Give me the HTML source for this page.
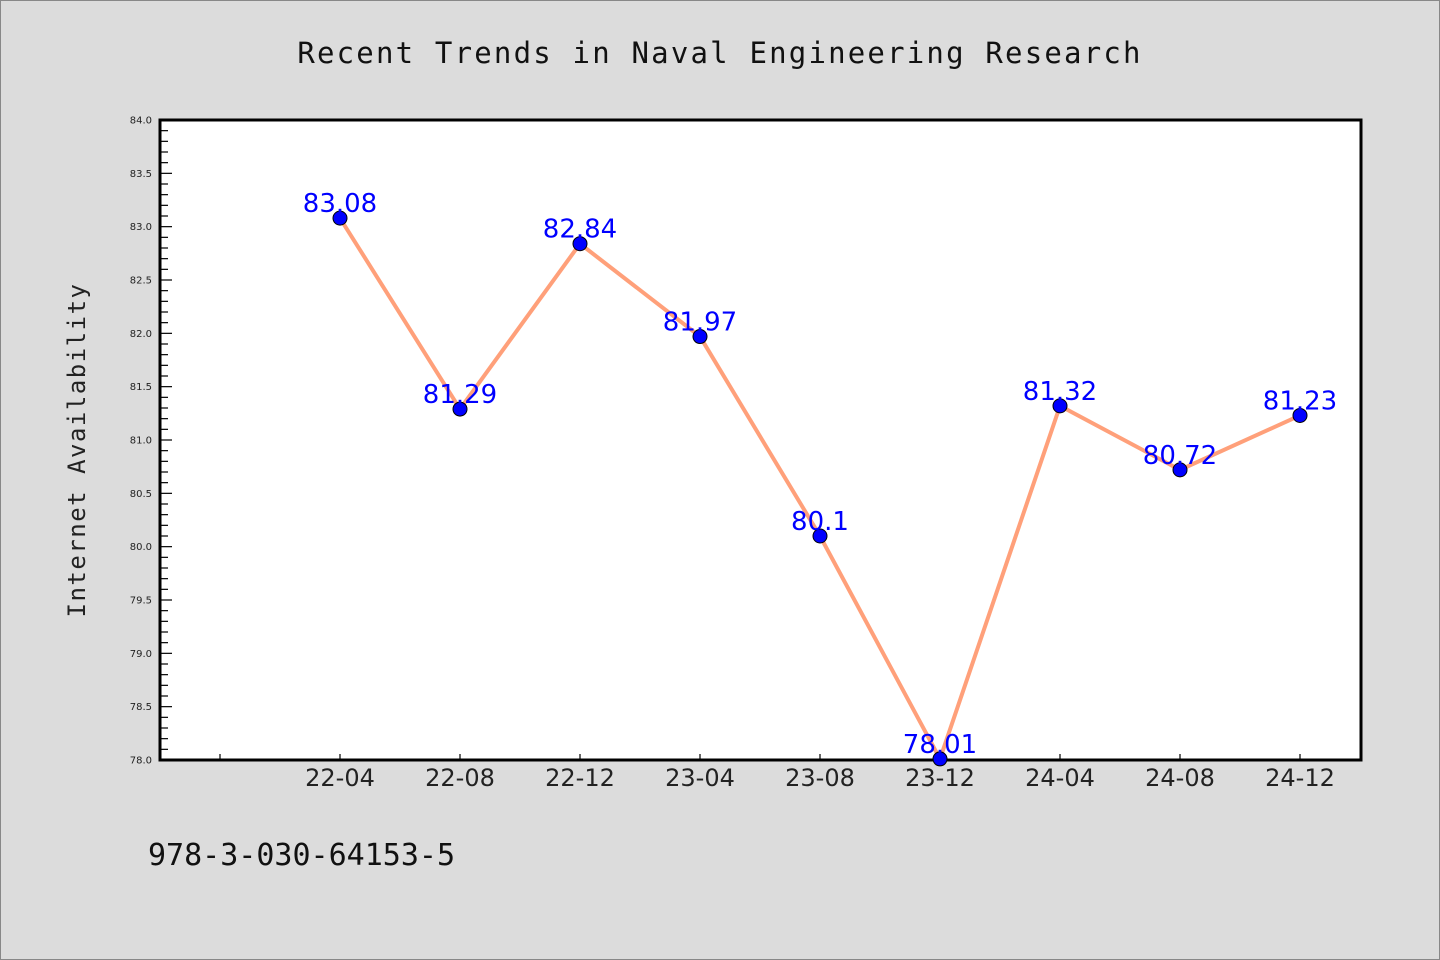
<!DOCTYPE html>
<html><head><meta charset="utf-8"><style>
body{margin:0;background:#dcdcdc;}
svg{display:block;font-family:"DejaVu Sans","Liberation Sans",sans-serif;}
</style></head><body>
<svg width="1440" height="960">
<rect x="0.5" y="0.5" width="1439" height="959" fill="#dcdcdc" stroke="#888"/>
<text x="720" y="63" text-anchor="middle" font-size="29" letter-spacing="2.2" font-family="DejaVu Sans Mono, Liberation Mono, monospace" fill="#111">Recent Trends in Naval Engineering Research</text>
<rect x="160" y="120" width="1201" height="640" fill="#fff" stroke="#000" stroke-width="3"/>
<text transform="translate(85,450) rotate(-90)" text-anchor="middle" font-size="24" letter-spacing="1.5" font-family="DejaVu Sans Mono, Liberation Mono, monospace" fill="#222">Internet Availability</text>
<text x="148" y="865" font-size="30" font-family="DejaVu Sans Mono, monospace" fill="#111">978-3-030-64153-5</text>
<g id="axes"></g>
<g id="marks"></g>
</svg>
<script>
const categories=["22-04","22-08","22-12","23-04","23-08","23-12","24-04","24-08","24-12"];
const values=[83.08,81.29,82.84,81.97,80.1,78.01,81.32,80.72,81.23];
const labels=["83.08","81.29","82.84","81.97","80.1","78.01","81.32","80.72","81.23"];
const yTicks=[78.0,78.5,79.0,79.5,80.0,80.5,81.0,81.5,82.0,82.5,83.0,83.5,84.0];
const NS="http://www.w3.org/2000/svg";
const yMin=78,yMax=84,plotTop=120,plotBot=760;
function yS(v){return plotBot-(v-yMin)/(yMax-yMin)*(plotBot-plotTop);}
function xS(i){return 340+i*120;}
function mk(t,a,p){const e=document.createElementNS(NS,t);for(const k in a)e.setAttribute(k,a[k]);p.appendChild(e);return e;}
const ax=document.getElementById('axes'),mg=document.getElementById('marks');
for(let k=0;k<=60;k++){
  const v=yMin+k*0.1;
  const major=k%5===0;
  const l=mk('line',{x1:160,x2:160+(major?12:8),y1:yS(v),y2:yS(v),stroke:'#000','stroke-width':1.2},ax);
  
  
}
yTicks.forEach(v=>{
  const t=mk('text',{x:152,y:yS(v)+3.5,'text-anchor':'end','font-size':10,fill:'#222'},ax);
  t.textContent=v.toFixed(1);
  
  
});
for(let i=-1;i<categories.length;i++){
  const l=mk('line',{x1:xS(i),x2:xS(i),y1:760,y2:754,stroke:'#000','stroke-width':1.2},ax);
  
  
}
categories.forEach((c,i)=>{
  const t=mk('text',{x:xS(i),y:786,'text-anchor':'middle','font-size':24,fill:'#222'},ax);
  t.textContent=c;
  
  
});
const pl=mk('polyline',{points:values.map((v,i)=>xS(i)+','+yS(v)).join(' '),fill:'none',stroke:'#ffa07a','stroke-width':4},mg);


values.forEach((v,i)=>{
  const c=mk('circle',{cx:xS(i),cy:yS(v),r:7,fill:'#0000ff',stroke:'#000','stroke-width':1},mg);
  
  
});
values.forEach((v,i)=>{
  const t=mk('text',{x:xS(i),y:yS(v)-6,'text-anchor':'middle','font-size':26,fill:'#0000ff'},mg);
  t.textContent=labels[i];
  
  
});
</script>
</body></html>
